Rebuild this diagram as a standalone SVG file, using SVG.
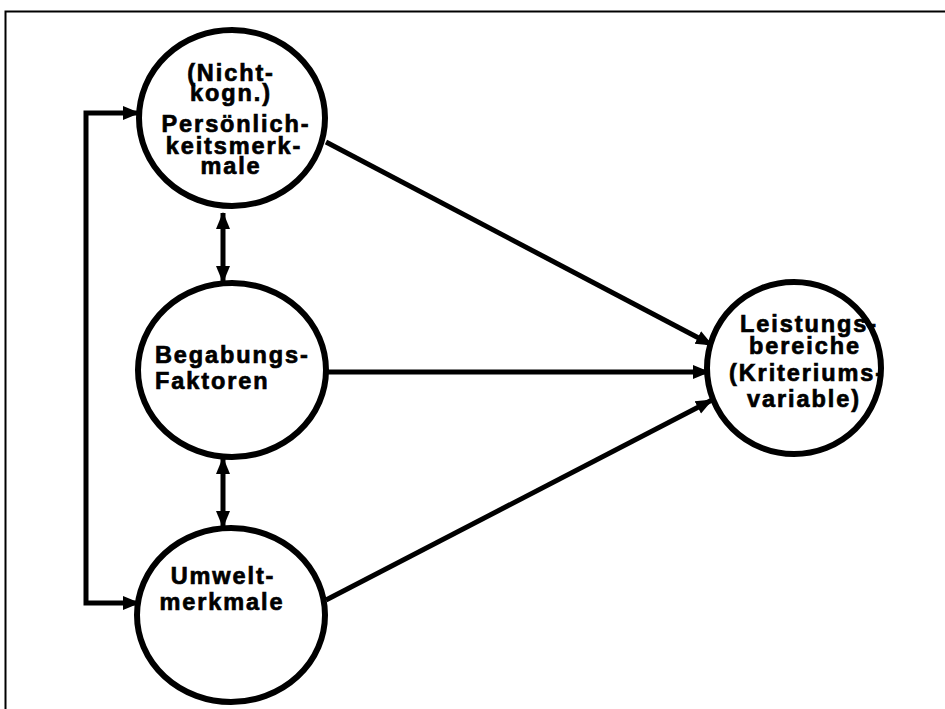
<svg xmlns="http://www.w3.org/2000/svg" width="945" height="709" viewBox="0 0 945 709">
  <defs>
    <marker id="head" markerUnits="userSpaceOnUse" markerWidth="18" markerHeight="16" refX="16" refY="8" orient="auto-start-reverse">
      <path d="M0,1 L17,8 L0,15 z" fill="#000"/>
    </marker>
  </defs>
  <style>
    .node { fill: #fff; stroke: #000; stroke-width: 6; }
    .lbl { font-family: "Liberation Sans", Arial, sans-serif; font-weight: bold; font-size: 23.5px; letter-spacing: 1.9px; fill: #000; stroke: #000; stroke-width: 0.7px; text-anchor: middle; }
    .edge { fill: none; stroke: #000; stroke-width: 5; marker-end: url(#head); }
    .both { marker-start: url(#head); }
    .frame { fill: none; stroke: #000; stroke-width: 2; }
  </style>
  <rect width="945" height="709" fill="#fff"/>
  <!-- outer frame: top and left rule -->
  <path class="frame" d="M5.5,709 V11.5 H945"/>

  <g id="connectors">
    <path class="edge" d="M326,142 L712,345"/>
    <path class="edge" d="M325,372 L709,372"/>
    <path class="edge" d="M326,600 L712,400"/>
    <path class="edge both" d="M223,213 L223,282"/>
    <path class="edge both" d="M223,458 L223,527"/>
    <path class="edge both" d="M139,113 H86 V603 H139"/>
  </g>

  <g id="persoenlichkeit">
    <ellipse class="node" cx="232" cy="118" rx="93" ry="88"/>
    <text class="lbl" x="231" y="81">(Nicht-</text>
    <text class="lbl" x="231" y="101">kogn.)</text>
    <text class="lbl" x="236" y="132">Persönlich-</text>
    <text class="lbl" x="234" y="154">keitsmerk-</text>
    <text class="lbl" x="231" y="174">male</text>
  </g>

  <g id="begabung">
    <ellipse class="node" cx="232" cy="370" rx="94" ry="87"/>
    <text class="lbl" x="155" y="363" style="text-anchor:start">Begabungs-</text>
    <text class="lbl" x="155" y="389" style="text-anchor:start">Faktoren</text>
  </g>

  <g id="umwelt">
    <ellipse class="node" cx="231" cy="615" rx="94" ry="87"/>
    <text class="lbl" x="223" y="584">Umwelt-</text>
    <text class="lbl" x="222" y="610">merkmale</text>
  </g>

  <g id="leistung">
    <ellipse class="node" cx="794" cy="368" rx="87" ry="86"/>
    <text class="lbl" x="809" y="332">Leistungs-</text>
    <text class="lbl" x="805" y="354">bereiche</text>
    <text class="lbl" x="807" y="381">(Kriteriums-</text>
    <text class="lbl" x="804" y="407">variable)</text>
  </g>
</svg>
